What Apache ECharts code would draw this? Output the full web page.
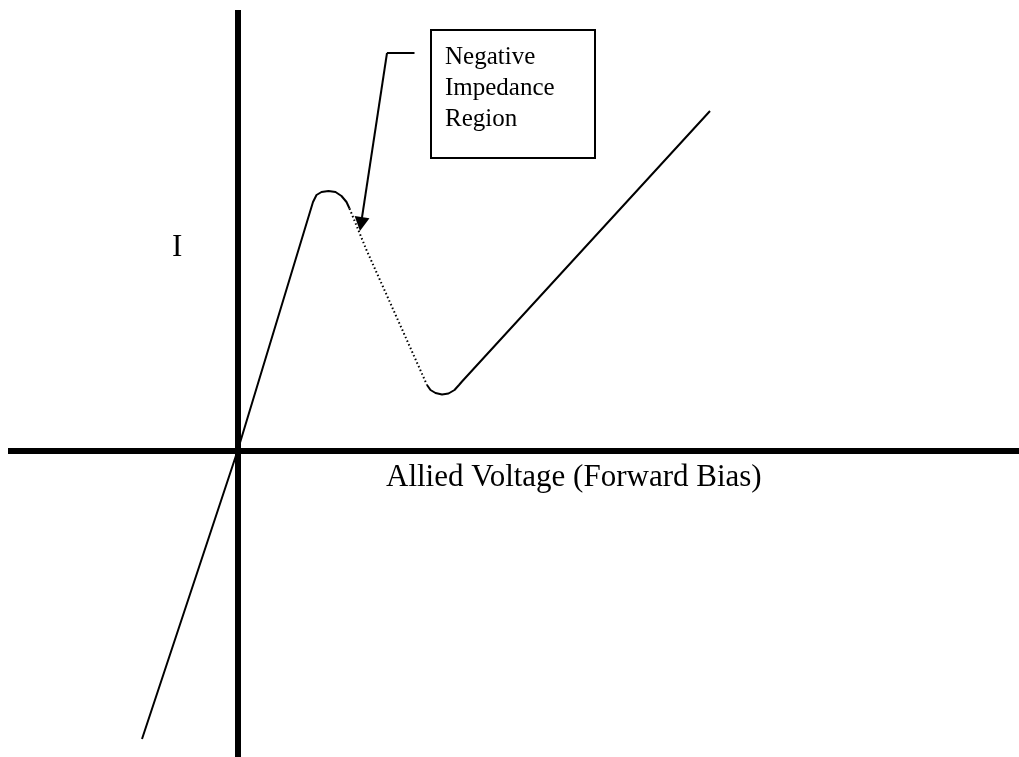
<!DOCTYPE html>
<html>
<head>
<meta charset="utf-8">
<title>Tunnel diode I-V characteristic</title>
<script src="https://cdn.jsdelivr.net/npm/echarts@6/dist/echarts.min.js"></script>
<style>
  html, body { margin: 0; padding: 0; background: #ffffff; }
  #chart { width: 1019px; height: 757px; }
</style>
</head>
<body>
<div id="chart"></div>
<script>
// Curve segments of the I-V characteristic, as [voltage, current] in arbitrary units.
// Forward rise through the origin up to the peak, with the rounded peak.
const risingToPeak = [
  [-0.955, -2.88], [0, 0], [0.755, 2.49],
  [0.79, 2.56], [0.84, 2.59], [0.91, 2.60], [0.98, 2.59],
  [1.04, 2.55], [1.09, 2.49], [1.12, 2.425]
];
// Negative impedance region (drawn dotted).
const negativeRegion = [[1.12, 2.425], [1.29, 2.01], [1.895, 0.66]];
// Valley and the second rise.
const valleyAndRise = [
  [1.895, 0.66], [1.93, 0.61], [1.98, 0.58], [2.045, 0.565],
  [2.11, 0.575], [2.17, 0.61], [2.215, 0.66], [2.245, 0.695],
  [4.725, 3.40]
];
// Callout leader: short horizontal stub, then the arrow down to the dotted segment.
const leaderStub = [[1.77, 3.98], [1.495, 3.98]];
const leaderArrow = [[1.495, 3.98], [1.235, 2.27]];

// Text
const calloutLines = ['Negative', 'Impedance', 'Region'];
const currentLabel = 'I';
const voltageLabel = 'Allied Voltage (Forward Bias)';

// Axis extents
const xRange = [-2.295, 7.815];
const yRange = [-3.06, 4.41];

const chart = echarts.init(document.getElementById('chart'), null, { renderer: 'canvas' });
const serif = '"Liberation Serif", "Times New Roman", serif';

const plainLine = (data, type) => ({
  type: 'line',
  data: data,
  showSymbol: false,
  symbol: 'none',
  silent: true,
  animation: false,
  lineStyle: { color: '#000', width: 2, type: type || 'solid' }
});

const axisCommon = {
  type: 'value',
  axisLine: { show: true, onZero: true, lineStyle: { color: '#000', width: 6, cap: 'butt' } },
  axisTick: { show: false },
  axisLabel: { show: false },
  splitLine: { show: false }
};

chart.setOption({
  animation: false,
  backgroundColor: '#ffffff',
  grid: { left: 8, right: 0, top: 10, bottom: 0 },
  xAxis: Object.assign({}, axisCommon, { min: xRange[0], max: xRange[1] }),
  yAxis: Object.assign({}, axisCommon, { min: yRange[0], max: yRange[1] }),
  series: [
    plainLine(risingToPeak),
    plainLine(negativeRegion, [1.5, 2.5]),
    plainLine(valleyAndRise),
    Object.assign(plainLine(leaderStub), {
      markLine: {
        silent: true,
        animation: false,
        symbol: ['none', 'triangle'],
        symbolSize: [15, 14],
        label: { show: false },
        emphasis: { disabled: true },
        lineStyle: { color: '#000', width: 2, type: 'solid' },
        itemStyle: { color: '#000' },
        data: [[{ coord: leaderArrow[0] }, { coord: leaderArrow[1] }]]
      }
    })
  ],
  graphic: [
    {
      type: 'rect',
      left: 430, top: 29,
      shape: { width: 164, height: 128 },
      style: { fill: '#ffffff', stroke: '#000', lineWidth: 2 },
      silent: true
    },
    {
      type: 'text',
      left: 445, top: 42,
      style: {
        text: calloutLines.join('\n'),
        font: '25px ' + serif,
        lineHeight: 31,
        fill: '#000'
      },
      silent: true
    },
    {
      type: 'text',
      left: 172, top: 232,
      style: { text: currentLabel, font: '31px ' + serif, fill: '#000' },
      silent: true
    },
    {
      type: 'text',
      left: 386, top: 462,
      style: { text: voltageLabel, font: '31px ' + serif, fill: '#000' },
      silent: true
    }
  ]
});
</script>
</body>
</html>
